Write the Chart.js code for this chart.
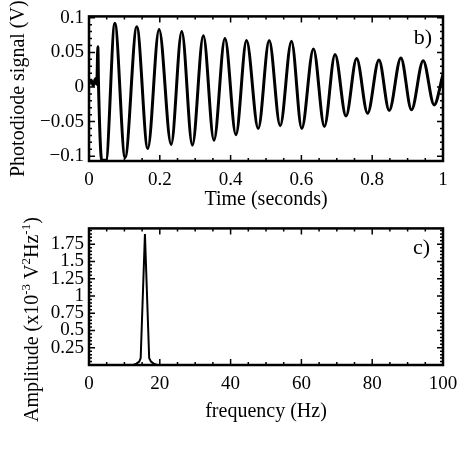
<!DOCTYPE html>
<html>
<head>
<meta charset="utf-8">
<script src="https://cdn.jsdelivr.net/npm/chart.js@4.4.1/dist/chart.umd.min.js"></script>
<style>
  body { margin: 0; background: #fff; }
  #fig { position: relative; width: 474px; height: 474px; }
  #fig canvas { position: absolute; left: 0; }
</style>
</head>
<body>
<div id="fig">
  <canvas id="signalChart" width="474" height="212" style="top:0"></canvas>
  <canvas id="spectrumChart" width="474" height="262" style="top:212px"></canvas>
</div>
<script>
// panel b) photodiode signal (start, then peaks and troughs)
const timeS = [0, 0.006, 0.012, 0.018, 0.022, 0.025, 0.027, 0.036, 0.048,
  0.073, 0.102, 0.135, 0.166, 0.198, 0.232, 0.262, 0.292, 0.323, 0.353,
  0.384, 0.415, 0.445, 0.478, 0.509, 0.540, 0.572, 0.601, 0.634, 0.665,
  0.695, 0.726, 0.756, 0.787, 0.819, 0.848, 0.881, 0.911, 0.944, 0.975, 1.0];
const signalV = [0.004, 0.010, 0.002, 0.012, 0.004, 0.058, 0.000, -0.106, -0.106,
  0.092, -0.102, 0.087, -0.089, 0.083, -0.083, 0.080, -0.084, 0.074, -0.077,
  0.070, -0.069, 0.067, -0.060, 0.067, -0.056, 0.066, -0.060, 0.055, -0.057,
  0.047, -0.042, 0.041, -0.038, 0.039, -0.034, 0.042, -0.033, 0.038, -0.026, 0.018];
const timeTicks = [0, 0.2, 0.4, 0.6, 0.8, 1];
const timeTickLabels = ['0', '0.2', '0.4', '0.6', '0.8', '1'];
const signalTicks = [-0.1, -0.05, 0, 0.05, 0.1];
const signalTickLabels = ['\u22120.1', '\u22120.05', '0', '0.05', '0.1'];

// panel c) amplitude spectrum, single peak near 16 Hz
const freqHz = [0, 12.5, 13.4, 14.2, 14.6, 15.8, 17.0, 17.5, 18.3, 19.2, 100];
const amplitude = [0, 0, 0.02, 0.05, 0.1, 1.9, 0.1, 0.05, 0.02, 0, 0];
const freqTicks = [0, 20, 40, 60, 80, 100];
const freqTickLabels = ['0', '20', '40', '60', '80', '100'];
const ampTicks = [0.25, 0.5, 0.75, 1, 1.25, 1.5, 1.75];
const ampTickLabels = ['0.25', '0.5', '0.75', '1', '1.25', '1.5', '1.75'];

const SERIF = "'Liberation Serif', 'DejaVu Serif', serif";
Chart.defaults.font.family = SERIF;
Chart.defaults.color = '#000';

// IDL-style box: frame, inward major/minor ticks, panel letter
const framePlugin = {
  id: 'frame',
  afterDraw(chart, args, o) {
    const { ctx, chartArea: a, scales: { x, y } } = chart;
    const isMajor = (v, list, step) => list.some(m => Math.abs(m - v) < step / 10);
    const steps = (s, step) => {
      const out = [];
      const first = Math.ceil(s.min / step - 1e-6);
      const last = Math.floor(s.max / step + 1e-6);
      for (let i = first; i <= last; i++) out.push(i * step);
      return out;
    };
    ctx.save();
    ctx.strokeStyle = '#000';
    ctx.lineWidth = 1.5;
    ctx.beginPath();
    steps(x, o.xMinor).forEach(v => {
      const px = x.getPixelForValue(v);
      const len = isMajor(v, o.xMajors, o.xMinor) ? 6 : 3;
      ctx.moveTo(px, a.bottom); ctx.lineTo(px, a.bottom - len);
      ctx.moveTo(px, a.top); ctx.lineTo(px, a.top + len);
    });
    steps(y, o.yMinor).forEach(v => {
      const py = y.getPixelForValue(v);
      const len = isMajor(v, o.yMajors, o.yMinor) ? 6 : 3;
      ctx.moveTo(a.left, py); ctx.lineTo(a.left + len, py);
      ctx.moveTo(a.right, py); ctx.lineTo(a.right - len, py);
    });
    ctx.stroke();
    ctx.lineWidth = 2.5;
    ctx.strokeRect(a.left, a.top, a.right - a.left, a.bottom - a.top);

    ctx.fillStyle = '#000';
    ctx.font = '22px ' + SERIF;
    ctx.textAlign = 'right';
    ctx.textBaseline = 'alphabetic';
    ctx.fillText(o.label, a.right - o.labelDx, a.top + o.labelDy);

    // y title with superscripts, drawn by hand
    if (o.yTitle) {
      ctx.translate(a.left - 51, a.bottom + 57);
      ctx.rotate(-Math.PI / 2);
      ctx.textAlign = 'left';
      let cx = 0;
      o.yTitle.forEach(([txt, sup]) => {
        ctx.font = (sup ? '13px ' : '20px ') + SERIF;
        ctx.fillText(txt, cx, sup ? -8 : 0);
        cx += ctx.measureText(txt).width;
      });
    }
    ctx.restore();
  }
};

function axis(extra) {
  return Object.assign({
    type: 'linear',
    grid: { display: false, drawTicks: false },
    border: { display: false },
  }, extra);
}

new Chart(document.getElementById('signalChart'), {
  type: 'line',
  data: {
    datasets: [{
      data: timeS.map((t, i) => ({ x: t, y: signalV[i] })),
      borderColor: '#000',
      borderWidth: 3,
      pointRadius: 0,
      cubicInterpolationMode: 'monotone',
      fill: false,
    }],
  },
  options: {
    responsive: false,
    animation: false,
    layout: { padding: { left: 0, right: 31, top: 15, bottom: 0 } },
    plugins: {
      legend: { display: false },
      tooltip: { enabled: false },
      frame: { xMinor: 0.05, xMajors: timeTicks, yMinor: 0.01, yMajors: signalTicks,
               label: 'b)', labelDx: 11, labelDy: 28 },
    },
    scales: {
      x: axis({
        min: 0, max: 1,
        afterBuildTicks: s => { s.ticks = timeTicks.map(v => ({ value: v })); },
        afterFit: s => { s.height = 51; },
        ticks: { autoSkip: false, maxRotation: 0, padding: 8, font: { size: 19 },
                 callback: (v, i) => timeTickLabels[i] },
        title: { display: true, text: 'Time (seconds)', font: { size: 20 }, padding: 0 },
      }),
      y: axis({
        min: -0.107, max: 0.102,
        afterBuildTicks: s => { s.ticks = signalTicks.map(v => ({ value: v })); },
        afterFit: s => { s.width = 89; },
        ticks: { autoSkip: false, padding: 5, font: { size: 19 },
                 callback: (v, i) => signalTickLabels[i] },
        title: { display: true, text: 'Photodiode signal (V)', font: { size: 20 },
                 padding: { top: 7, bottom: 0 } },
      }),
    },
  },
  plugins: [framePlugin],
});

new Chart(document.getElementById('spectrumChart'), {
  type: 'line',
  data: {
    datasets: [{
      data: freqHz.map((f, i) => ({ x: f, y: amplitude[i] })),
      borderColor: '#000',
      borderWidth: 2,
      pointRadius: 0,
      tension: 0,
      fill: false,
    }],
  },
  options: {
    responsive: false,
    animation: false,
    layout: { padding: { left: 0, right: 31, top: 7, bottom: 50 } },
    plugins: {
      legend: { display: false },
      tooltip: { enabled: false },
      frame: { xMinor: 5, xMajors: freqTicks, yMinor: 0.05, yMajors: ampTicks,
               label: 'c)', labelDx: 13, labelDy: 26,
               yTitle: [['Amplitude (x10'], ['-3', true], [' V'], ['2', true], ['Hz'], ['-1', true], [')']] },
    },
    scales: {
      x: axis({
        min: 0, max: 100,
        afterBuildTicks: s => { s.ticks = freqTicks.map(v => ({ value: v })); },
        afterFit: s => { s.height = 59; },
        ticks: { autoSkip: false, maxRotation: 0, padding: 8, font: { size: 19 },
                 callback: (v, i) => freqTickLabels[i] },
        title: { display: true, text: 'frequency (Hz)', font: { size: 20 }, padding: 0 },
      }),
      y: axis({
        min: 0, max: 1.98,
        afterBuildTicks: s => { s.ticks = ampTicks.map(v => ({ value: v })); },
        afterFit: s => { s.width = 89; },
        ticks: { autoSkip: false, padding: 5, font: { size: 19 },
                 callback: (v, i) => ampTickLabels[i] },
      }),
    },
  },
  plugins: [framePlugin],
});
</script>
</body>
</html>
